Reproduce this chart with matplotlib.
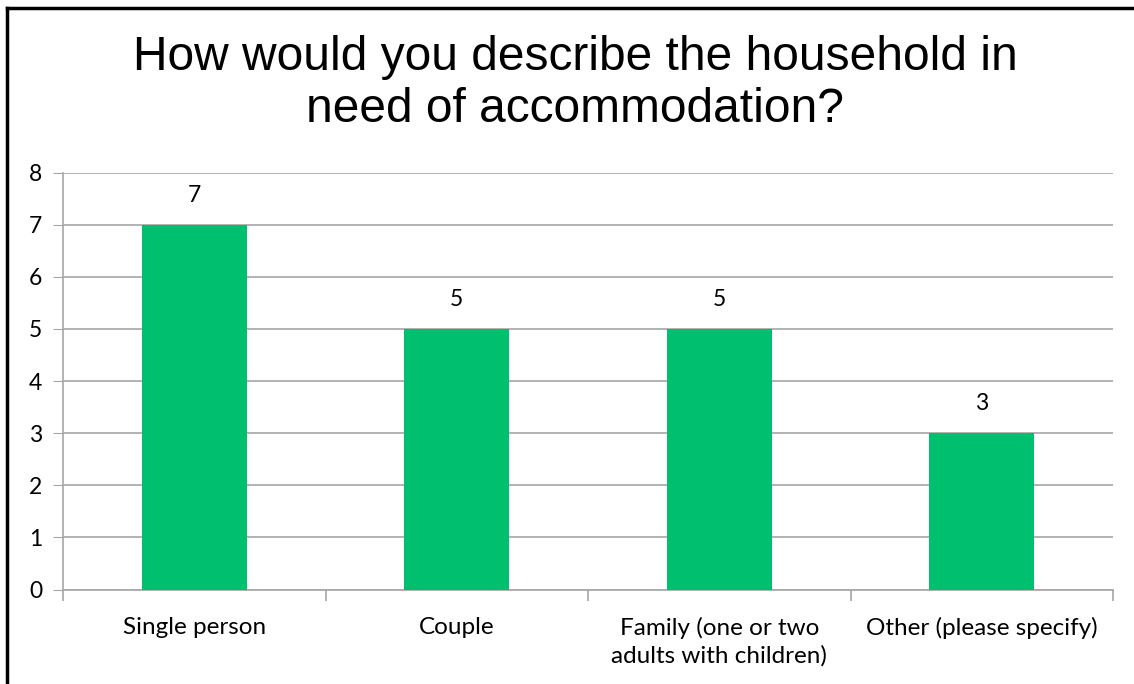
import numpy as np
import matplotlib.pyplot as plt
from matplotlib.lines import Line2D

categories = ["Single person", "Couple", "Family (one or two\nadults with children)", "Other (please specify)"]
counts = [7, 5, 5, 3]
title = "How would you describe the household in\nneed of accommodation?"

bar_color = "#00BF6F"
grid_color = "#A6A6A6"
label_font = "Lato"

fig = plt.figure(figsize=(11.34, 6.84), dpi=100)
ax = fig.add_axes([63 / 1134, 1 - 589.5 / 684, 1050 / 1134, 417 / 684])

x = np.arange(len(categories))
ax.bar(x, counts, width=0.4, color=bar_color, zorder=3)

for xi, v in zip(x, counts):
    ax.annotate(str(v), (xi, v), xytext=(0, 21), textcoords="offset points",
                ha="center", va="center", fontsize=16.5, family=label_font)

ax.set_xlim(-0.5, len(categories) - 0.5)
ax.set_ylim(0, 8)
ax.set_yticks(range(0, 9))
ax.yaxis.grid(True, color=grid_color, linewidth=1.2, zorder=0)
ax.tick_params(axis="y", length=7, color=grid_color, labelsize=16.5, pad=8)
for lbl in ax.get_yticklabels():
    lbl.set_family(label_font)

# category labels centred, boundary ticks between them
ax.set_xticks(x)
ax.set_xticklabels(categories, fontsize=17.5, family=label_font, linespacing=1.3, va="top")
ax.tick_params(axis="x", which="major", length=0, pad=20)
ax.set_xticks(np.arange(-0.5, len(categories)), minor=True)
ax.tick_params(axis="x", which="minor", length=8, color=grid_color, width=1.2)

for side in ["top", "right"]:
    ax.spines[side].set_visible(False)
ax.spines["left"].set_color(grid_color)
ax.spines["bottom"].set_color(grid_color)
ax.spines["left"].set_linewidth(1.2)
ax.spines["bottom"].set_linewidth(1.2)

fig.text(575 / 1134, 1 - 84 / 684, title, ha="center", va="center",
         fontsize=34.5, family="Liberation Sans", linespacing=1.2)

# chart frame (left and top edges)
fig.add_artist(Line2D([7 / 1134, 7 / 1134], [0, 1 - 8 / 684], color="black", linewidth=2.5,
                      transform=fig.transFigure))
fig.add_artist(Line2D([7 / 1134, 1], [1 - 8 / 684, 1 - 8 / 684], color="black", linewidth=2.5,
                      transform=fig.transFigure))

fig.savefig("out.png", dpi=100, facecolor="white")
